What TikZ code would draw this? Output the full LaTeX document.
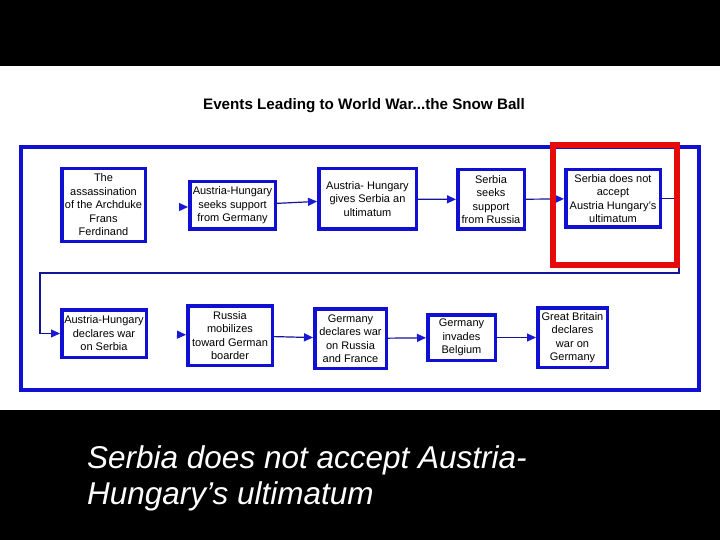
\documentclass[tikz,border=0pt]{standalone}
\usepackage{fontspec}
\setmainfont{Liberation Sans}
\usetikzlibrary{arrows.meta}
\definecolor{boxblue}{RGB}{16,16,210}
\definecolor{linkblue}{RGB}{20,20,150}
\definecolor{tipblue}{RGB}{24,24,215}
\definecolor{markred}{RGB}{230,10,10}
\tikzset{
    event/.style={draw=boxblue, line width=3.5pt, fill=white, align=center,
        inner sep=1pt, font=\fontsize{11}{13.5}\selectfont},
    link/.style={draw=linkblue, line width=1.2pt,
        -{Triangle[length=9pt,width=8pt,color=tipblue]}},
    ghost/.style={draw=white, line width=1.2pt,
        -{Triangle[length=9pt,width=8pt,color=tipblue]}}
}
\begin{document}
\begin{tikzpicture}[x=1pt,y=-1pt]
    \useasboundingbox (0,0) rectangle (720,540);
    \fill[black] (0,0) rectangle (720,540);
    \fill[white] (0,66) rectangle (720,410);

    \node at (364,106) (title) {\fontsize{15.2}{17}\selectfont\bfseries Events Leading to World War...the Snow Ball};
    \draw[boxblue, line width=4pt] (21,147.5) rectangle (699,390);

    \coordinate (rtop) at (679,273);
    \coordinate (ltop) at (40,273);

    \node[event, minimum width=83.5, minimum height=72.5] at (103.5,205) (Assassin) {The\\assassination\\of the Archduke\\Frans\\Ferdinand};
    \node[event, minimum width=85.5, minimum height=47.5] at (232.5,205.5) (AHsupport) {Austria-Hungary\\seeks support\\from Germany};
    \node[event, minimum width=97.5, minimum height=60.5] at (367.5,199) (Ultimatum) {Austria- Hungary\\gives Serbia an\\ultimatum};
    \node[event, minimum width=66.5, minimum height=59.5] at (491,199.5) (SRsupport) {Serbia\\seeks\\support\\from Russia};
    \node[event, minimum width=94.5, minimum height=57.5] at (613,198.5) (Refuse) {Serbia does not\\accept\\Austria Hungary's\\ultimatum};

    \node[event, minimum width=84.5, minimum height=47.5] at (104,333.5) (AHwar) {Austria-Hungary\\declares war\\on Serbia};
    \node[event, minimum width=84.5, minimum height=59.5] at (230,335.5) (RUmob) {Russia\\mobilizes\\toward German\\boarder};
    \node[event, minimum width=71.5, minimum height=59.5] at (350.5,338.5) (GEwar) {Germany\\declares war\\on Russia\\and France};
    \node[event, minimum width=67.5, minimum height=45.5] at (461.5,337.5) (Belgium) {Germany\\invades\\Belgium};
    \node[event, minimum width=69.5, minimum height=59.5] at (572.5,337.5) (GBwar) {Great Britain\\declares\\war on\\Germany};

    \draw[ghost] (Assassin.east |- AHsupport.west) ++(0,1.5) to (AHsupport.west |- 0,207);
    \draw[link] (AHsupport) to (Ultimatum);
    \draw[link] (Ultimatum) to (SRsupport);
    \draw[link] (SRsupport) to (Refuse);
    \draw[link] (Refuse.east) -| (rtop) -- (ltop) |- (AHwar.west);
    \draw[ghost] (AHwar) to (RUmob);
    \draw[link] (RUmob) to (GEwar);
    \draw[link] (GEwar) to (Belgium);
    \draw[link] (Belgium) to (GBwar);

    \draw[markred, line width=6pt] (553,145) rectangle (677,265);

    \node[anchor=north west, align=left, text=white, inner sep=0pt,
        font=\fontsize{31.5}{36}\selectfont\itshape] at (87,445) (caption)
        {Serbia does not accept Austria-\\Hungary’s ultimatum};
\end{tikzpicture}
\end{document}
